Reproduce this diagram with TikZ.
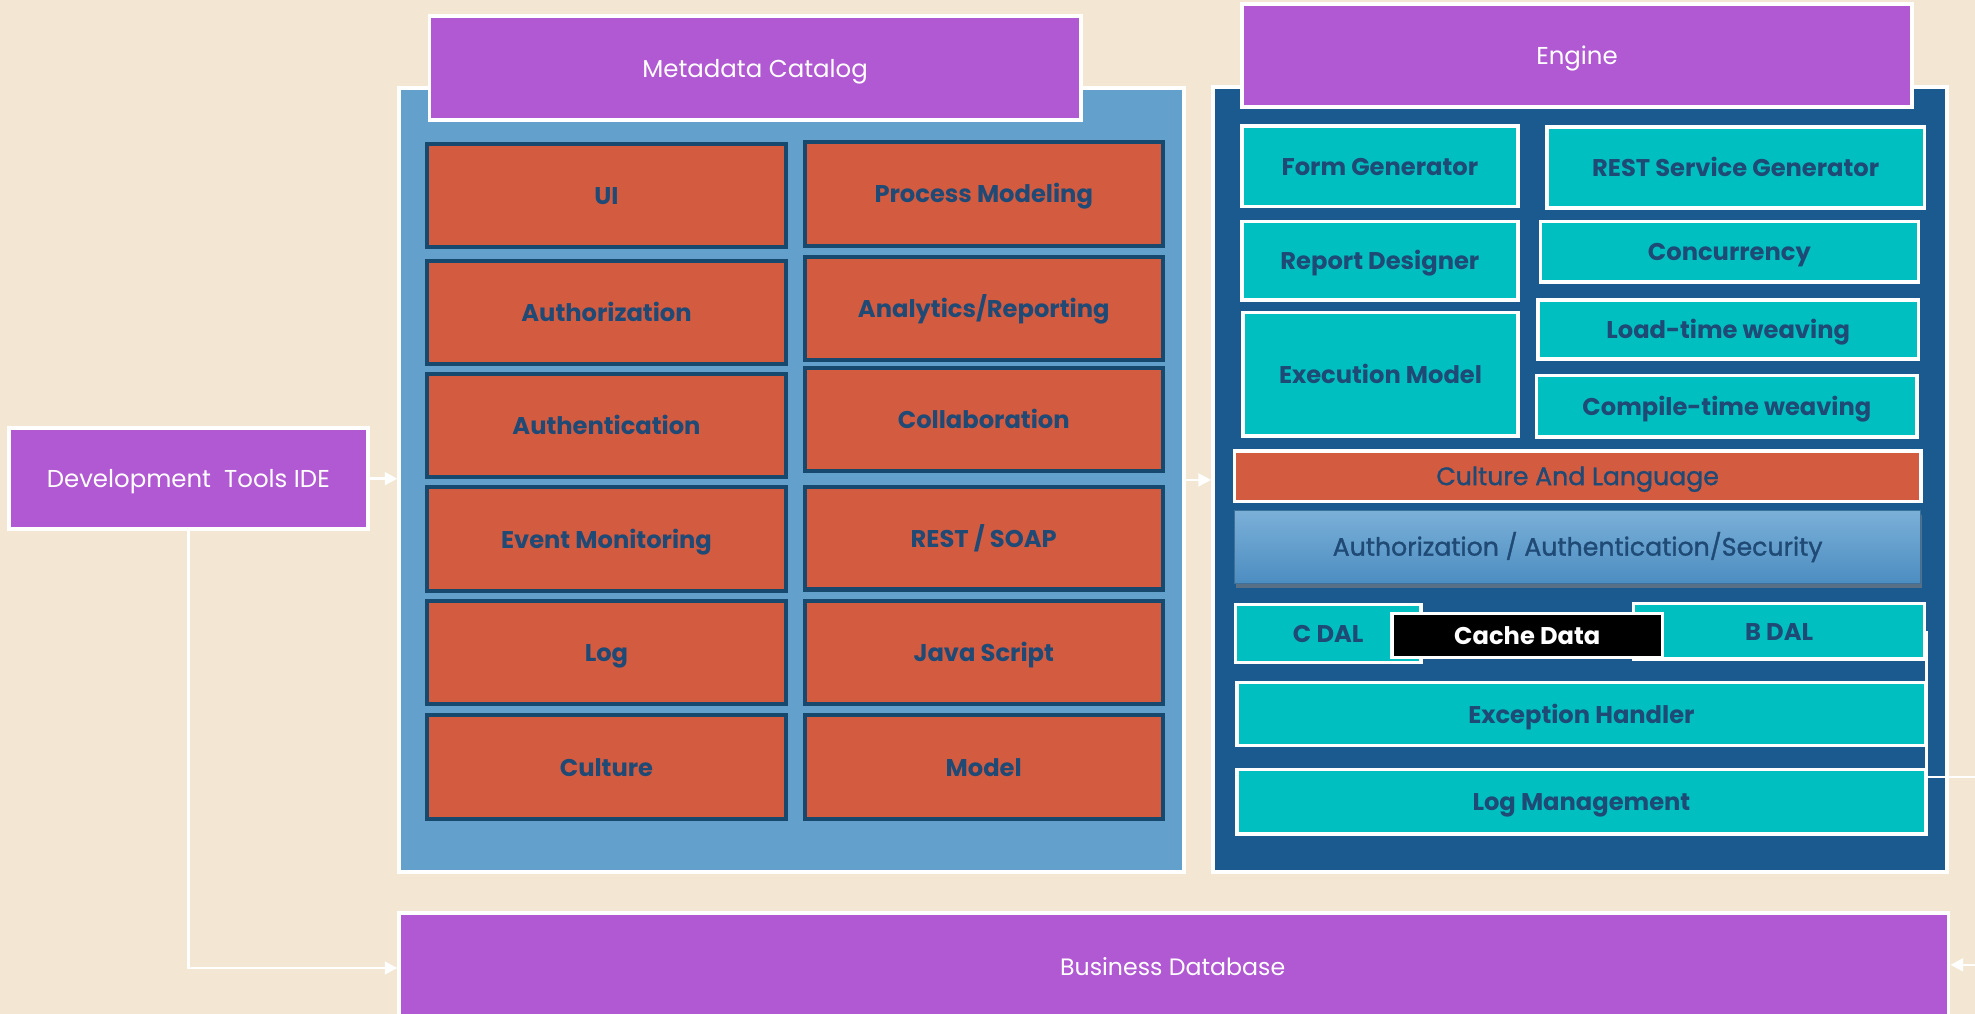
\documentclass[tikz,border=0pt]{standalone}
\usepackage{fontspec}
\setmainfont{Poppins}
\newfontfamily\demifont[FakeBold=1.2]{Poppins}
\usetikzlibrary{arrows.meta,shadows}
\definecolor{bgc}{HTML}{F3E7D3}
\definecolor{purp}{HTML}{B159D3}
\definecolor{lblue}{HTML}{64A0CC}
\definecolor{dblue}{HTML}{1B5A8E}
\definecolor{orng}{HTML}{D35B40}
\definecolor{teal}{HTML}{00BFC0}
\definecolor{txtb}{HTML}{1F4A75}
\definecolor{bord}{HTML}{17486E}
\definecolor{gtop}{HTML}{7BB0D8}
\definecolor{gbot}{HTML}{4C8DC1}
\tikzset{
  base/.style={inner sep=0pt, rectangle, text height=1.5ex, text depth=0.2ex},
  title/.style={base, fill=purp, draw=white, line width=1.5pt, text=white, font=\fontsize{9.7}{11}\selectfont},
  panel/.style={base, draw=white, line width=1.5pt},
  obox/.style={base, fill=orng, draw=bord, line width=1.6pt, text=txtb, font=\fontsize{9.6}{11}\selectfont\bfseries},
  tbox/.style={base, fill=teal, draw=white, line width=1.4pt, text=txtb, font=\fontsize{9.6}{11}\selectfont\bfseries},
  demi/.style={font=\fontsize{10}{11}\selectfont\demifont},
  conn/.style={draw=white, line width=1pt},
  arr/.style={conn, -{Triangle[length=5pt,width=5pt]}},
}
\newcommand{\bx}[7]{\node[#6, minimum width={(#4-#2)*0.5pt}, minimum height={(#5-#3)*0.5pt}] (#1) at ({(#2+#4)/2},{(#3+#5)/2}) {#7};}
\begin{document}
\begin{tikzpicture}[x=0.5pt,y=-0.5pt]
\useasboundingbox (0,0) rectangle (1568,805);
\fill[bgc] (0,0) rectangle (1568,805);

% panels
\bx{meta}{317}{70}{940}{692}{panel,fill=lblue}{}
\bx{eng}{963}{69}{1546}{692}{panel,fill=dblue}{}
\bx{metah}{341}{13}{858}{95}{title}{Metadata Catalog}
\bx{engh}{986}{3}{1518}{85}{title}{Engine}
\bx{dev}{7}{340}{292}{420}{title}{Development\ \ Tools IDE}
\bx{db}{317}{725}{1547}{812}{title}{}
\node[base, text=white, font=\fontsize{9.4}{11}\selectfont] (dbt) at (931,767) {Business Database};

% metadata boxes
\bx{ui}{339}{114}{624}{196}{obox}{UI}
\bx{pm}{639}{113}{923}{195}{obox}{Process Modeling}
\bx{authz}{339}{207}{624}{289}{obox}{Authorization}
\bx{ar}{639}{204}{923}{286}{obox}{Analytics/Reporting}
\bx{authn}{339}{297}{624}{379}{obox}{Authentication}
\bx{coll}{639}{292}{923}{374}{obox}{Collaboration}
\bx{em}{339}{387}{624}{469}{obox}{Event Monitoring}
\bx{rest}{639}{387}{923}{468}{obox}{REST / SOAP}
\bx{log}{339}{477}{624}{559}{obox}{Log}
\bx{js}{639}{477}{923}{559}{obox}{Java Script}
\bx{cult}{339}{568}{624}{650}{obox}{Culture}
\bx{model}{639}{568}{923}{650}{obox}{Model}

% engine boxes
\bx{fg}{986}{100}{1205}{164}{tbox}{Form Generator}
\bx{rsg}{1228}{101}{1528}{165}{tbox}{REST Service Generator}
\bx{rd}{986}{176}{1205}{238}{tbox}{Report Designer}
\bx{conc}{1223}{176}{1523}{224}{tbox}{Concurrency}
\bx{exm}{987}{248}{1205}{346}{tbox}{Execution Model}
\bx{ltw}{1221}{238}{1523}{285}{tbox}{Load-time weaving}
\bx{ctw}{1220}{298}{1522}{347}{tbox}{Compile-time weaving}
\bx{cal}{980}{358}{1525}{398}{tbox,fill=orng,demi}{Culture And Language}
\bx{sec}{980}{405}{1525}{463}{base,top color=gtop,bottom color=gbot,draw=gbot!80!black,line width=0.4pt,drop shadow={shadow xshift=0.6pt,shadow yshift=-2pt,opacity=0.6},text=txtb,demi}{Authorization / Authentication/Security}
\bx{cdal}{981}{480}{1128}{526}{tbox}{C DAL}
\bx{bdal}{1297}{479}{1528}{523}{tbox}{B DAL}
\bx{cache}{1105}{487}{1320}{522}{tbox,fill=black,text=white}{Cache Data}
\bx{exh}{982}{542}{1529}{592}{tbox}{Exception Handler}
\bx{logm}{982}{611}{1529}{662}{tbox}{Log Management}

% connectors
\coordinate (exitR) at (1568,617);
\coordinate (inR) at (1568,766);
\draw[arr] (dev.east) -- (dev.east -| meta.west);
\draw[arr] (meta.east) -- (meta.east -| eng.west);
\draw[arr] (dev.south) -- (dev.south |- db.west) -- (db.west);
\draw[conn] (bdal.east) -- (bdal.east |- exitR) -- (exitR);
\draw[arr] (inR) -- (inR -| db.east);
\end{tikzpicture}
\end{document}
